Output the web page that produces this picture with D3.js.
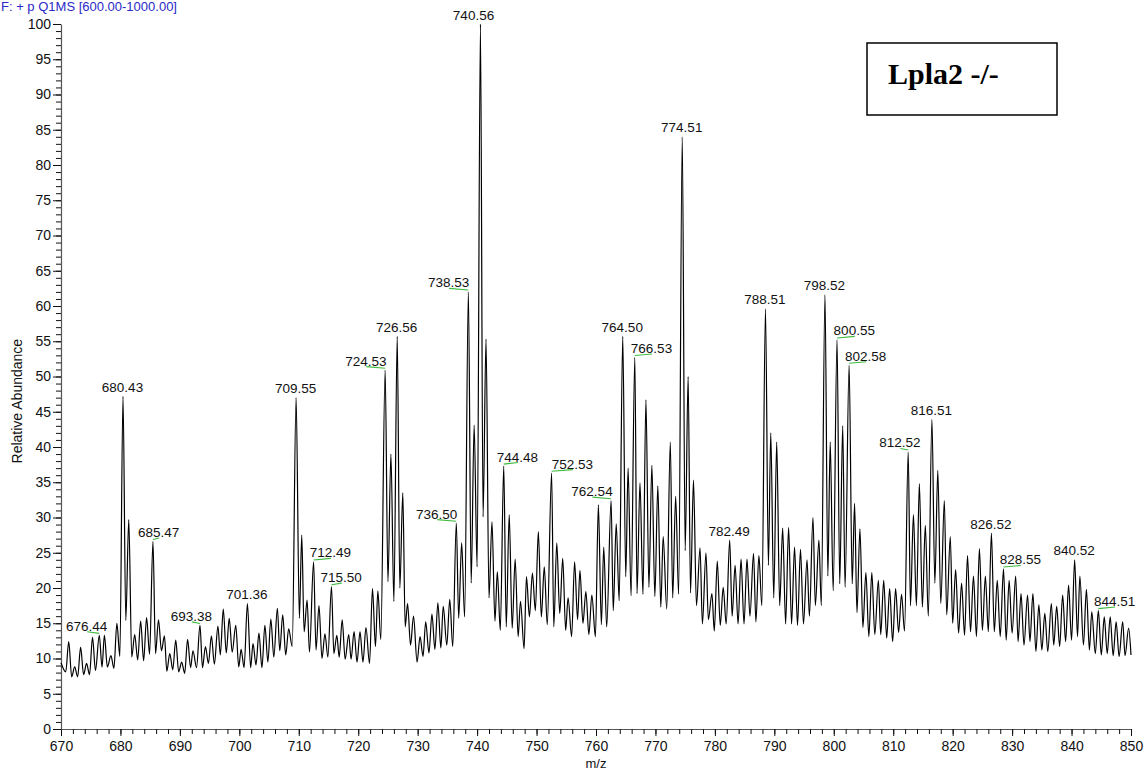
<!DOCTYPE html>
<html>
<head>
<meta charset="utf-8">
<script src="https://cdn.jsdelivr.net/npm/d3@7"></script>
<style>
  html, body { margin: 0; padding: 0; background: #fff; }
  svg { display: block; font-family: "Liberation Sans", Arial, sans-serif; }
</style>
</head>
<body>
<svg id="chart" width="1148" height="773"></svg>
<script>
// ---- data ----
const headerText = "F: + p Q1MS [600.00-1000.00]";
const boxLabel = "Lpla2 -/-";
const xAxisTitle = "m/z";
const yAxisTitle = "Relative Abundance";
const xMajorTicks = [670, 680, 690, 700, 710, 720, 730, 740, 750, 760, 770, 780, 790, 800, 810, 820, 830, 840, 850];
const yMajorTicks = [0, 5, 10, 15, 20, 25, 30, 35, 40, 45, 50, 55, 60, 65, 70, 75, 80, 85, 90, 95, 100];

// profile vertices (alternating maxima / minima), m/z
const profileMz = [
  670.0, 670.8, 671.3, 671.8, 672.3, 672.8, 673.3, 673.8, 674.3, 674.8,
  675.3, 675.8, 676.44, 676.9, 677.3, 677.8, 678.4, 678.9, 679.4, 679.9,
  680.43, 680.9, 681.4, 681.9, 682.4, 682.9, 683.4, 683.9, 684.4, 684.9,
  685.47, 685.9, 686.4, 686.9, 687.4, 687.8, 688.3, 688.8, 689.3, 689.8,
  690.3, 690.8, 691.3, 691.8, 692.2, 692.8, 693.38, 693.8, 694.3, 694.8,
  695.3, 695.8, 696.4, 696.8, 697.3, 697.8, 698.3, 698.8, 699.4, 699.9,
  700.3, 700.8, 701.36, 701.9, 702.3, 702.8, 703.3, 703.8, 704.3, 704.8,
  705.3, 705.8, 706.4, 706.8, 707.3, 707.8, 708.3, 708.9, 709.55, 710.1,
  710.5, 710.9, 711.4, 711.8, 712.49, 712.9, 713.4, 713.9, 714.4, 714.9,
  715.50, 715.9, 716.4, 716.8, 717.3, 717.8, 718.4, 718.8, 719.3, 719.8,
  720.3, 720.8, 721.3, 721.9, 722.4, 722.9, 723.3, 723.8, 724.53, 725.0,
  725.5, 726.0, 726.56, 727.0, 727.5, 727.9, 728.3, 728.8, 729.3, 729.9,
  730.4, 730.9, 731.35, 731.9, 732.4, 732.9, 733.4, 733.9, 734.3, 734.9,
  735.4, 735.9, 736.50, 736.9, 737.4, 737.9, 738.53, 739.0, 739.5, 740.0,
  740.56, 741.0, 741.5, 742.0, 742.5, 743.0, 743.4, 743.9, 744.48, 744.9,
  745.4, 745.9, 746.4, 746.9, 747.3, 747.9, 748.3, 748.8, 749.3, 749.8,
  750.3, 750.8, 751.3, 751.8, 752.53, 752.9, 753.4, 753.9, 754.4, 754.9,
  755.3, 755.9, 756.4, 756.9, 757.3, 757.8, 758.3, 758.8, 759.3, 759.9,
  760.4, 760.9, 761.3, 761.8, 762.54, 762.9, 763.4, 763.9, 764.50, 765.0,
  765.4, 765.9, 766.53, 766.9, 767.4, 767.9, 768.4, 768.9, 769.4, 769.9,
  770.4, 770.9, 771.3, 771.9, 772.5, 772.9, 773.4, 773.9, 774.51, 775.0,
  775.5, 775.9, 776.4, 776.9, 777.5, 777.9, 778.5, 778.9, 779.5, 779.9,
  780.4, 780.9, 781.4, 781.9, 782.49, 782.9, 783.4, 783.9, 784.4, 784.9,
  785.4, 785.9, 786.5, 786.9, 787.4, 787.9, 788.51, 789.0, 789.4, 789.9,
  790.4, 790.9, 791.4, 791.9, 792.4, 792.9, 793.4, 793.9, 794.4, 794.9,
  795.5, 795.9, 796.5, 796.9, 797.5, 797.9, 798.52, 799.0, 799.4, 799.9,
  800.55, 801.0, 801.5, 801.9, 802.58, 803.1, 803.5, 803.9, 804.4, 804.9,
  805.4, 805.9, 806.4, 806.9, 807.5, 807.9, 808.4, 808.9, 809.4, 809.9,
  810.4, 810.9, 811.4, 811.9, 812.52, 812.9, 813.4, 813.9, 814.4, 814.9,
  815.4, 815.9, 816.51, 817.0, 817.5, 818.0, 818.6, 819.0, 819.6, 820.0,
  820.5, 821.0, 821.5, 822.0, 822.5, 823.0, 823.5, 824.0, 824.5, 825.0,
  825.5, 826.0, 826.52, 827.0, 827.5, 828.0, 828.55, 829.0, 829.5, 830.0,
  830.6, 831.0, 831.5, 832.0, 832.6, 833.0, 833.5, 834.0, 834.5, 835.0,
  835.5, 836.0, 836.6, 837.0, 837.5, 838.0, 838.5, 839.0, 839.5, 840.0,
  840.52, 841.0, 841.4, 842.0, 842.5, 843.0, 843.4, 844.0, 844.51, 845.0,
  845.5, 846.0, 846.5, 847.0, 847.5, 848.0, 848.6, 849.0, 849.6, 850.0
];
// relative abundance at each vertex (%)
const profileInt = [
  9.4, 8.1, 12.4, 7.4, 8.8, 7.4, 11.6, 7.7, 9.3, 7.7,
  13.0, 8.3, 13.3, 8.8, 13.3, 8.8, 10.4, 8.6, 15.0, 10.3,
  47.2, 15.4, 29.7, 10.2, 13.4, 9.8, 15.3, 9.7, 15.8, 10.6,
  26.6, 10.7, 15.5, 11.1, 13.2, 8.2, 10.7, 8.4, 12.6, 8.1,
  9.5, 7.9, 12.7, 8.7, 11.1, 8.7, 14.7, 8.7, 11.7, 9.3,
  13.2, 9.2, 14.6, 10.5, 17.0, 10.8, 15.7, 10.9, 14.7, 8.8,
  11.3, 8.7, 17.8, 8.7, 12.1, 9.1, 13.6, 8.7, 14.7, 9.5,
  15.6, 10.2, 17.1, 11.1, 16.2, 10.5, 14.2, 11.7, 47.0, 15.7,
  27.5, 13.8, 18.3, 10.9, 23.7, 11.2, 17.5, 10.0, 13.5, 10.2,
  20.2, 10.7, 13.3, 10.2, 15.5, 9.9, 13.4, 9.9, 13.8, 9.5,
  13.8, 9.5, 14.4, 9.3, 19.9, 11.7, 19.6, 12.7, 50.9, 20.9,
  39.0, 18.1, 55.7, 20.0, 33.5, 14.5, 17.8, 11.9, 16.0, 9.5,
  13.1, 10.3, 15.2, 10.8, 16.3, 11.3, 17.9, 11.5, 17.4, 11.9,
  18.4, 11.7, 29.2, 15.7, 26.4, 15.9, 62.0, 20.7, 43.1, 23.0,
  100.0, 30.1, 55.3, 18.6, 29.4, 15.3, 22.3, 14.0, 37.3, 14.5,
  30.4, 14.3, 24.1, 13.1, 18.1, 11.4, 21.6, 15.9, 22.1, 16.8,
  28.0, 15.9, 23.0, 14.8, 36.3, 14.5, 26.4, 16.4, 24.2, 14.0,
  18.6, 13.1, 23.7, 15.5, 22.5, 15.0, 19.5, 13.4, 19.0, 13.1,
  31.8, 14.8, 25.8, 14.5, 32.4, 16.8, 29.1, 18.2, 55.7, 21.6,
  37.0, 18.9, 52.7, 19.2, 34.9, 19.1, 46.7, 20.1, 37.4, 18.8,
  34.5, 17.3, 27.3, 17.0, 40.7, 18.6, 33.0, 19.1, 84.0, 25.3,
  50.0, 19.3, 35.3, 17.5, 25.7, 14.9, 25.0, 15.5, 19.2, 13.9,
  23.8, 14.7, 20.1, 14.9, 26.8, 16.0, 23.2, 14.9, 24.1, 14.9,
  24.1, 16.0, 24.9, 15.2, 24.6, 17.5, 59.6, 23.2, 42.0, 18.6,
  40.7, 17.5, 28.5, 14.9, 28.6, 14.9, 25.8, 14.7, 25.5, 14.9,
  24.0, 16.0, 30.0, 17.5, 26.8, 17.5, 61.6, 21.7, 40.7, 19.6,
  55.2, 20.6, 43.0, 20.1, 51.6, 20.6, 32.0, 16.5, 28.4, 14.4,
  22.2, 13.1, 22.2, 13.4, 21.1, 13.4, 21.1, 12.9, 19.9, 12.4,
  19.9, 13.7, 19.1, 13.9, 39.3, 17.5, 30.4, 17.5, 34.8, 17.3,
  28.9, 16.0, 43.9, 20.7, 36.7, 17.8, 32.4, 16.2, 27.3, 15.0,
  22.6, 13.6, 20.7, 13.3, 24.6, 13.8, 21.7, 13.1, 25.6, 14.0,
  21.7, 13.8, 27.8, 13.8, 21.1, 13.1, 22.7, 12.6, 21.1, 13.6,
  21.7, 12.4, 19.2, 11.9, 19.0, 12.4, 19.2, 11.0, 17.6, 11.2,
  16.4, 11.0, 17.8, 11.9, 17.4, 11.7, 19.0, 12.4, 20.4, 12.6,
  24.0, 13.1, 21.7, 11.9, 19.8, 11.2, 16.6, 10.7, 16.8, 10.5,
  15.9, 10.7, 15.9, 10.4, 15.2, 10.3, 15.2, 10.4, 14.3, 10.5
];

// peak annotations
const peakLabels = [
  "676.44", "680.43", "685.47", "693.38", "701.36", "709.55", "712.49", "715.50",
  "724.53", "726.56", "736.50", "738.53", "740.56", "744.48", "752.53", "762.54",
  "764.50", "766.53", "774.51", "782.49", "788.51", "798.52", "800.55", "802.58",
  "812.52", "816.51", "826.52", "828.55", "840.52", "844.51"
];
// horizontal displacement of each label from its peak (m/z units); 0 = centred
const labelShift = [
  -2.04, 0, 1.04, -1.35, 0, 0, 2.9, 1.72,
  -3.16, 0, -3.21, -3.25, -1.08, 2.37, 3.57, -3.13,
  0, 2.89, 0, 0, 0, 0, 2.98, 2.88,
  -1.31, 0, 0, 2.91, 0, 2.81
];
// labels that carry a green leader line
const hasLeader = [
  true, false, true, true, false, false, true, true,
  true, false, true, true, false, true, true, true,
  false, true, false, false, false, false, true, true,
  true, false, false, true, false, true
];

// ---- drawing ----
const svg = d3.select("#chart");
const x = d3.scaleLinear().domain([670, 850]).range([61, 1131]);
const y = d3.scaleLinear().domain([0, 100]).range([729, 24]);

const fontTick = 14;

// header
svg.append("text")
  .attr("x", 1).attr("y", 11)
  .attr("font-size", 13)
  .attr("fill", "#2a2ac8")
  .text(headerText);

// x axis: minor ticks every 2
const xMinor = d3.range(670, 851, 2);
svg.append("g")
  .attr("transform", `translate(0,${y(0)})`)
  .call(d3.axisBottom(x).tickValues(xMinor).tickSize(5).tickSizeOuter(0).tickFormat(""))
  .call(g => g.select(".domain").attr("stroke", "#555").attr("stroke-width", 1.2))
  .call(g => g.selectAll(".tick line").attr("stroke", "#111"));
svg.append("g")
  .attr("transform", `translate(0,${y(0)})`)
  .call(d3.axisBottom(x).tickValues(xMajorTicks).tickSize(7).tickSizeOuter(0).tickPadding(5).tickFormat(d3.format("d")))
  .call(g => g.select(".domain").remove())
  .call(g => g.selectAll(".tick line").attr("stroke", "#111"))
  .call(g => g.selectAll(".tick text").attr("font-size", fontTick).attr("font-family", "Liberation Sans, Arial, sans-serif").attr("fill", "#111"));

// y axis: minor ticks every 1
const yMinor = d3.range(0, 101, 1);
svg.append("g")
  .attr("transform", `translate(${x(670)},0)`)
  .call(d3.axisLeft(y).tickValues(yMinor).tickSize(5).tickSizeOuter(0).tickFormat(""))
  .call(g => g.select(".domain").attr("stroke", "#555").attr("stroke-width", 1.2))
  .call(g => g.selectAll(".tick line").attr("stroke", "#111"));
svg.append("g")
  .attr("transform", `translate(${x(670)},0)`)
  .call(d3.axisLeft(y).tickValues(yMajorTicks).tickSize(8).tickSizeOuter(0).tickPadding(2).tickFormat(d3.format("d")))
  .call(g => g.select(".domain").remove())
  .call(g => g.selectAll(".tick line").attr("stroke", "#111"))
  .call(g => g.selectAll(".tick text").attr("font-size", fontTick).attr("font-family", "Liberation Sans, Arial, sans-serif").attr("fill", "#111"));

// axis titles
svg.append("text")
  .attr("x", x(760)).attr("y", 768)
  .attr("text-anchor", "middle")
  .attr("font-size", 13)
  .attr("fill", "#111")
  .text(xAxisTitle);
svg.append("text")
  .attr("transform", `translate(22,${y(46.5)}) rotate(-90)`)
  .attr("text-anchor", "middle")
  .attr("font-size", 14)
  .attr("fill", "#111")
  .text(yAxisTitle);

// spectrum line
const pts = profileMz.map((m, i) => [m, profileInt[i]]);
const line = d3.line()
  .x(d => x(d[0]))
  .y(d => y(d[1]))
  .curve(d3.curveMonotoneX);
svg.append("path")
  .datum(pts)
  .attr("d", line)
  .attr("fill", "none")
  .attr("stroke", "#000")
  .attr("stroke-width", 1.2)
  .attr("stroke-linejoin", "round");

// peak labels
peakLabels.forEach((lab, i) => {
  const mz = +lab;
  let best = 0;
  profileMz.forEach((m, j) => { if (Math.abs(m - mz) < Math.abs(profileMz[best] - mz)) best = j; });
  const px = x(mz);
  const py = y(profileInt[best]);
  const base = py - 4.5;
  const lx = x(mz + labelShift[i]);
  if (hasLeader[i]) {
    svg.append("line")
      .attr("x1", px).attr("y1", base + 2.6)
      .attr("x2", lx).attr("y2", base + 1)
      .attr("stroke", "#3dbb3d")
      .attr("stroke-width", 1.1);
  }
  svg.append("text")
    .attr("x", lx - 0.5).attr("y", base)
    .attr("text-anchor", "middle")
    .attr("font-size", 13.5)
    .attr("fill", "#111")
    .text(lab);
});

// boxed sample label
svg.append("rect")
  .attr("x", 867).attr("y", 43)
  .attr("width", 190).attr("height", 72)
  .attr("fill", "#fff")
  .attr("stroke", "#000")
  .attr("stroke-width", 1.5);
svg.append("text")
  .attr("x", 888).attr("y", 84)
  .attr("font-family", "Liberation Serif, 'Times New Roman', serif")
  .attr("font-weight", "bold")
  .attr("font-size", 30)
  .attr("fill", "#000")
  .text(boxLabel);
</script>
</body>
</html>
